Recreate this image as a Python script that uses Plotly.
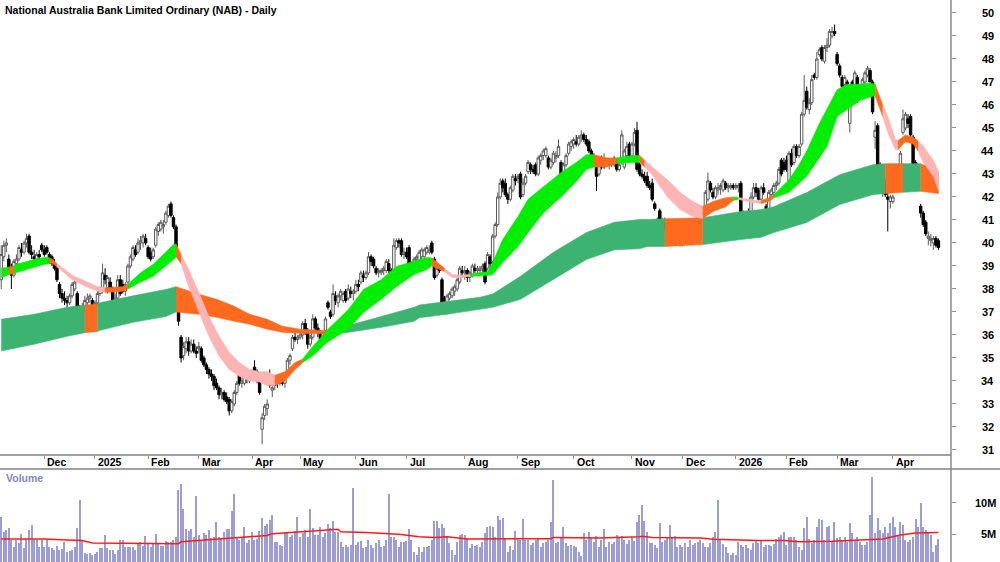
import pandas as pd
import plotly.graph_objects as go

# ------------------------------------------------------------------ data
TITLE = "National Australia Bank Limited Ordinary (NAB) - Daily"
FIRST_DAY, LAST_DAY = "2024-11-07", "2026-04-29"
ASX_HOLIDAYS = ["2024-12-25", "2024-12-26", "2025-01-01", "2025-01-27",
                "2025-04-18", "2025-04-21", "2025-04-25", "2025-06-09",
                "2025-12-25", "2025-12-26", "2026-01-01", "2026-01-26",
                "2026-04-03", "2026-04-06"]

# (open, high, low, close) for each trading day
NOV_2024 = [(38.4, 39.9, 38.0, 39.5), (39.4, 40.1, 39.2, 39.9), (39.9, 40.2, 39.6, 40.0),
            (39.3, 39.5, 38.8, 38.9), (38.9, 39.1, 38.0, 38.6), (38.6, 39.3, 38.5, 39.2),
            (39.1, 39.5, 38.9, 39.3), (39.3, 39.9, 39.2, 39.8), (39.7, 40.0, 39.4, 39.6),
            (39.6, 40.1, 39.5, 40.0), (40.0, 40.4, 39.8, 40.2), (40.3, 40.4, 39.5, 39.6),
            (39.6, 39.9, 39.3, 39.5), (39.4, 39.7, 39.1, 39.3), (39.3, 39.6, 39.2, 39.5),
            (39.5, 39.7, 39.3, 39.4), (39.9, 40.0, 39.6, 39.7)]
DEC_2024 = [(39.7, 39.9, 39.4, 39.5), (39.8, 39.9, 39.5, 39.6), (39.5, 39.6, 39.1, 39.2),
            (39.4, 39.5, 39.0, 39.1), (39.1, 39.3, 38.8, 38.9), (38.9, 39.0, 38.3, 38.4),
            (38.2, 38.3, 37.6, 37.8), (37.8, 38.0, 37.4, 37.6), (37.6, 37.9, 37.3, 37.5),
            (37.5, 37.7, 37.2, 37.4), (37.4, 37.8, 37.3, 37.7), (37.7, 38.3, 37.6, 38.2),
            (38.0, 38.4, 37.9, 38.3), (37.8, 37.9, 37.0, 37.1), (37.1, 37.3, 36.4, 36.6),
            (36.7, 37.4, 36.6, 37.2), (37.2, 37.7, 37.0, 37.5), (37.4, 37.8, 37.3, 37.6),
            (37.6, 37.8, 37.4, 37.7), (37.5, 37.6, 37.1, 37.2)]
JAN_2025 = [(37.2, 37.5, 37.1, 37.4), (37.4, 37.9, 37.3, 37.8), (37.8, 38.1, 37.7, 38.0),
            (37.9, 39.1, 37.8, 38.7), (38.6, 38.9, 38.2, 38.4), (37.9, 38.6, 37.8, 38.5),
            (38.3, 38.5, 37.9, 38.0), (38.0, 38.1, 37.3, 37.4), (37.5, 37.8, 37.3, 37.6),
            (37.6, 38.6, 37.5, 38.4), (38.4, 38.6, 37.7, 37.8), (38.2, 38.4, 37.8, 37.9),
            (37.9, 38.3, 37.7, 38.2), (38.3, 39.1, 38.2, 39.0), (39.0, 39.5, 38.9, 39.4),
            (39.3, 39.9, 39.2, 39.8), (39.7, 39.9, 39.4, 39.5), (39.6, 40.2, 39.5, 40.0),
            (40.0, 40.3, 39.7, 40.1), (40.0, 40.4, 39.8, 40.3), (40.2, 40.4, 39.9, 40.0)]
FEB_2025 = [(39.8, 39.9, 39.3, 39.4), (39.6, 39.8, 39.2, 39.3), (39.4, 39.8, 39.3, 39.7),
            (39.9, 40.7, 39.8, 40.6), (40.5, 40.9, 40.3, 40.8), (40.6, 41.0, 40.5, 40.9),
            (40.7, 41.0, 40.4, 40.8), (40.9, 41.4, 40.8, 41.3), (41.2, 41.7, 41.1, 41.6),
            (41.7, 41.8, 41.1, 41.2), (41.1, 41.2, 40.6, 40.7), (40.7, 40.8, 39.6, 39.7),
            (37.0, 37.2, 36.4, 36.6), (35.9, 36.0, 34.8, 35.0), (35.1, 35.7, 34.9, 35.5),
            (35.4, 35.9, 35.2, 35.7), (35.7, 35.9, 35.1, 35.3), (35.3, 35.8, 35.2, 35.6),
            (35.6, 35.8, 35.2, 35.3), (35.3, 35.5, 35.0, 35.2)]
MAR_2025 = [(35.4, 35.7, 35.2, 35.5), (35.4, 35.5, 34.8, 34.9), (35.0, 35.1, 34.6, 34.7),
            (34.7, 34.8, 34.3, 34.5), (34.5, 34.6, 34.1, 34.3), (34.3, 34.5, 34.0, 34.2),
            (34.2, 34.3, 33.6, 33.8), (33.9, 34.1, 33.6, 33.7), (33.7, 33.8, 33.2, 33.4),
            (33.4, 33.7, 33.2, 33.5), (33.5, 33.6, 33.1, 33.2), (33.3, 33.5, 33.0, 33.1),
            (33.2, 33.3, 32.5, 32.7), (32.7, 33.2, 32.6, 33.1), (33.0, 33.6, 32.9, 33.5),
            (33.5, 34.0, 33.4, 33.9), (34.4, 34.6, 33.8, 33.9), (33.9, 34.2, 33.7, 34.0),
            (33.9, 34.3, 33.8, 34.2), (34.2, 34.3, 33.9, 34.1), (34.0, 34.4, 33.9, 34.3)]
APR_2025 = [(34.1, 34.5, 34.0, 34.4), (34.6, 34.9, 34.3, 34.4), (34.4, 34.5, 33.9, 34.0),
            (34.0, 34.1, 33.4, 33.5), (31.9, 32.6, 31.25, 32.4), (32.5, 33.0, 32.3, 32.9),
            (32.8, 33.2, 32.5, 33.0), (34.2, 34.5, 33.7, 33.8), (33.6, 33.9, 33.3, 33.7),
            (33.8, 34.1, 33.6, 34.0), (34.0, 34.2, 33.7, 33.9), (33.9, 34.3, 33.8, 34.2),
            (34.1, 34.3, 33.8, 33.9), (33.9, 34.2, 33.7, 34.1), (34.3, 35.0, 34.2, 34.9),
            (34.9, 35.2, 34.7, 35.1), (35.4, 36.0, 35.3, 35.9), (35.9, 36.1, 35.7, 35.8),
            (35.8, 36.0, 35.6, 35.9)]
MAY_2025 = [(35.9, 36.2, 35.8, 36.0), (36.0, 36.6, 35.8, 36.5), (36.5, 36.7, 36.0, 36.2),
            (36.2, 36.3, 35.4, 35.6), (35.6, 36.0, 35.5, 35.9), (35.9, 36.9, 35.8, 36.7),
            (36.7, 36.8, 36.1, 36.3), (36.3, 36.5, 35.9, 36.1), (36.1, 36.2, 35.7, 35.8),
            (35.8, 36.2, 35.7, 36.1), (36.2, 36.8, 36.1, 36.7), (37.4, 37.5, 37.1, 37.2),
            (37.0, 37.1, 36.7, 36.8), (36.9, 38.2, 36.8, 37.8), (37.7, 37.9, 37.3, 37.5),
            (37.4, 37.8, 37.2, 37.7), (37.7, 38.0, 37.5, 37.9), (37.5, 37.9, 37.4, 37.8),
            (37.9, 38.0, 37.4, 37.5), (37.6, 38.2, 37.5, 38.0), (37.9, 38.1, 37.6, 37.8),
            (37.8, 38.0, 37.5, 37.9)]
JUN_2025 = [(37.9, 38.4, 37.8, 38.2), (38.2, 38.4, 37.9, 38.1), (38.3, 38.8, 38.2, 38.7),
            (38.6, 38.8, 38.3, 38.5), (38.5, 38.8, 38.4, 38.7), (38.7, 39.6, 38.6, 39.4),
            (39.4, 39.5, 39.0, 39.2), (39.3, 39.4, 38.9, 39.0), (38.9, 39.0, 38.6, 38.7),
            (38.7, 38.9, 38.5, 38.8), (38.7, 38.9, 38.6, 38.8), (38.8, 39.0, 38.6, 38.9),
            (38.8, 39.3, 38.7, 39.2), (39.1, 39.3, 38.7, 38.8), (38.8, 38.9, 38.5, 38.7),
            (38.7, 40.2, 38.6, 39.9), (39.8, 40.2, 39.7, 40.1), (40.1, 40.2, 39.8, 40.0),
            (40.1, 40.2, 39.4, 39.5), (39.5, 39.8, 39.3, 39.6)]
JUL_2025 = [(39.6, 39.8, 39.3, 39.4), (39.8, 39.9, 39.0, 39.1), (39.0, 39.2, 38.8, 39.1),
            (39.0, 39.4, 38.9, 39.3), (39.3, 39.5, 39.1, 39.4), (39.2, 39.7, 39.1, 39.6),
            (39.4, 39.8, 39.3, 39.7), (39.4, 39.8, 39.3, 39.7), (39.6, 39.9, 39.5, 39.8),
            (39.6, 39.9, 39.5, 39.7), (40.0, 40.1, 39.5, 39.6), (39.3, 39.4, 38.4, 38.5),
            (38.6, 39.0, 38.5, 38.9), (38.9, 39.0, 38.7, 38.8), (38.4, 38.5, 37.1, 37.2),
            (37.6, 37.7, 37.0, 37.3), (37.4, 37.8, 37.3, 37.7), (37.6, 37.9, 37.5, 37.8),
            (37.7, 38.1, 37.6, 38.0), (37.9, 38.2, 37.7, 38.1), (38.0, 38.5, 37.9, 38.4),
            (38.3, 39.0, 38.2, 38.9), (38.8, 39.0, 38.5, 38.7)]
AUG_2025 = [(38.7, 39.0, 38.4, 38.8), (38.8, 38.9, 38.3, 38.5), (38.5, 38.8, 38.3, 38.7),
            (38.6, 39.1, 38.5, 39.0), (38.9, 39.1, 38.7, 38.8), (38.8, 39.0, 38.6, 38.9),
            (38.8, 39.0, 38.7, 38.9), (38.9, 39.1, 38.7, 39.0), (39.1, 39.2, 38.2, 38.3),
            (38.9, 39.6, 38.8, 39.5), (39.4, 39.5, 38.9, 39.1), (39.2, 40.4, 39.1, 40.3),
            (40.3, 40.9, 40.2, 40.8), (40.8, 42.2, 40.7, 42.0), (42.0, 42.8, 41.9, 42.6),
            (42.7, 42.8, 42.2, 42.4), (42.6, 42.8, 42.0, 42.1), (42.1, 42.2, 41.7, 41.9),
            (41.9, 42.5, 41.8, 42.4), (42.3, 43.0, 42.2, 42.9), (42.8, 43.0, 42.5, 42.7)]
SEP_2025 = [(42.8, 43.0, 42.6, 42.9), (43.0, 43.1, 41.9, 42.0), (42.1, 42.8, 42.0, 42.6),
            (42.6, 43.0, 42.5, 42.9), (43.1, 43.6, 43.0, 43.5), (43.4, 43.5, 43.0, 43.2),
            (43.2, 43.4, 43.0, 43.1), (43.4, 43.5, 42.9, 43.0), (43.0, 43.8, 42.9, 43.7),
            (43.6, 43.9, 43.4, 43.8), (43.8, 44.1, 43.6, 44.0), (43.8, 44.2, 43.7, 44.1),
            (43.7, 43.8, 43.2, 43.3), (43.3, 43.7, 43.2, 43.6), (43.5, 44.0, 43.4, 43.9),
            (43.7, 44.0, 43.5, 43.8), (43.8, 44.5, 43.7, 44.2), (43.5, 43.6, 42.7, 42.9),
            (43.0, 43.5, 42.9, 43.4), (43.4, 43.9, 43.3, 43.8), (43.9, 44.4, 43.8, 44.3),
            (44.2, 44.5, 44.0, 44.4)]
OCT_2025 = [(44.3, 44.6, 44.1, 44.5), (44.4, 44.7, 44.2, 44.3), (44.3, 44.7, 44.2, 44.6),
            (44.6, 44.9, 44.4, 44.7), (44.7, 44.8, 44.4, 44.5), (44.5, 44.7, 44.2, 44.3),
            (44.4, 44.5, 43.9, 44.0), (44.0, 44.1, 43.5, 43.6), (43.7, 43.9, 43.4, 43.5),
            (43.6, 43.7, 42.25, 42.9), (43.0, 43.6, 42.9, 43.5), (43.5, 43.8, 43.2, 43.3),
            (43.3, 43.9, 43.2, 43.6), (43.6, 43.7, 43.3, 43.4), (43.4, 43.7, 43.2, 43.5),
            (43.5, 43.7, 43.3, 43.6), (43.4, 43.8, 43.3, 43.7), (43.6, 43.7, 43.1, 43.2),
            (43.2, 43.5, 43.1, 43.4), (43.5, 44.9, 43.4, 44.7), (43.3, 44.1, 43.2, 44.0),
            (43.8, 44.4, 43.6, 44.2), (44.3, 44.4, 43.7, 43.8)]
NOV_2025 = [(43.8, 44.4, 43.7, 44.3), (44.3, 45.0, 44.2, 44.8), (44.9, 45.27, 43.1, 43.2),
            (43.4, 43.5, 42.9, 43.0), (43.0, 43.2, 42.8, 42.9), (42.9, 43.1, 42.6, 42.7),
            (42.9, 43.1, 42.4, 42.5), (42.5, 42.7, 42.3, 42.4), (42.6, 42.8, 41.8, 41.9),
            (41.7, 41.8, 41.4, 41.5), (41.0, 41.1, 40.6, 40.7), (41.4, 41.5, 40.3, 40.5),
            (40.5, 41.1, 40.3, 41.0), (40.9, 41.1, 40.5, 40.6), (40.5, 41.0, 40.4, 40.9),
            (40.8, 41.0, 40.4, 40.5), (40.5, 41.0, 40.4, 40.9), (40.6, 41.0, 40.5, 40.9),
            (40.8, 40.9, 40.1, 40.2), (40.4, 40.5, 39.85, 40.0)]
DEC_2025 = [(39.9, 40.5, 39.85, 40.4), (40.4, 40.6, 40.2, 40.5), (40.4, 40.8, 40.3, 40.7),
            (40.7, 40.9, 40.4, 40.5), (40.5, 40.9, 40.4, 40.8), (40.8, 41.0, 40.6, 40.9),
            (40.9, 41.3, 40.8, 41.2), (41.1, 41.4, 41.0, 41.3), (41.3, 41.6, 41.2, 41.5),
            (41.5, 42.3, 41.4, 42.2), (41.9, 43.06, 41.8, 42.7), (42.6, 42.7, 42.2, 42.3),
            (42.2, 42.4, 41.9, 42.0), (42.0, 42.5, 41.9, 42.4), (42.3, 42.6, 42.1, 42.4),
            (42.4, 42.6, 42.1, 42.5), (42.3, 42.8, 42.2, 42.7), (42.6, 42.7, 42.3, 42.4),
            (42.4, 42.6, 42.2, 42.5), (42.4, 42.6, 42.3, 42.5), (42.5, 42.6, 42.3, 42.4)]
JAN_2026 = [(42.4, 42.6, 42.3, 42.5), (42.4, 42.6, 42.2, 42.5), (42.6, 42.7, 40.7, 41.2),
            (41.3, 41.4, 40.7, 40.8), (40.9, 41.4, 40.8, 41.3), (41.3, 41.5, 41.0, 41.1),
            (41.2, 42.2, 41.1, 42.0), (42.0, 42.6, 41.9, 42.4), (42.4, 42.6, 42.0, 42.2),
            (42.3, 42.4, 41.8, 41.9), (41.9, 42.5, 41.8, 42.4), (42.4, 42.6, 42.1, 42.2),
            (41.6, 41.7, 41.15, 41.3), (41.4, 42.3, 41.3, 42.2), (42.1, 42.4, 41.9, 42.3),
            (42.2, 42.6, 42.0, 42.5), (42.5, 42.7, 42.3, 42.6), (42.6, 43.3, 42.5, 43.2),
            (43.6, 43.7, 42.9, 43.0), (43.5, 43.7, 43.1, 43.2)]
FEB_2026 = [(43.6, 43.8, 43.1, 43.2), (42.7, 44.0, 42.45, 43.9), (43.9, 44.1, 43.3, 43.4),
            (43.5, 44.3, 43.4, 44.2), (44.2, 44.3, 43.7, 43.8), (43.8, 44.3, 43.7, 44.2),
            (44.3, 45.7, 44.2, 45.6), (45.6, 47.3, 45.5, 46.2), (46.6, 46.8, 45.8, 45.9),
            (45.8, 46.3, 45.6, 46.1), (46.1, 47.3, 46.0, 47.1), (47.3, 47.4, 47.1, 47.2),
            (47.2, 48.3, 47.1, 48.0), (48.2, 48.5, 48.1, 48.4), (48.5, 48.6, 47.9, 48.0),
            (47.9, 48.6, 47.8, 48.5), (48.5, 48.9, 48.3, 48.6), (48.6, 49.3, 48.5, 49.2),
            (49.0, 49.4, 48.9, 49.2), (49.2, 49.5, 49.0, 49.1)]
MAR_2026 = [(48.2, 48.3, 47.7, 47.8), (47.7, 47.8, 47.2, 47.3), (47.2, 47.3, 46.75, 46.8),
            (46.9, 47.3, 46.8, 47.2), (47.0, 47.1, 46.8, 46.9), (45.2, 46.1, 44.8, 46.0),
            (47.0, 47.1, 46.5, 46.6), (46.8, 47.5, 46.7, 47.4), (47.2, 47.3, 46.1, 46.2),
            (46.4, 46.6, 46.3, 46.5), (46.5, 47.2, 46.4, 47.1), (47.0, 47.5, 46.9, 47.4),
            (47.3, 47.7, 47.2, 47.6), (47.5, 47.6, 47.0, 47.0), (47.0, 47.1, 45.6, 45.7),
            (44.6, 45.3, 44.1, 44.9), (45.1, 45.2, 42.9, 43.0), (43.4, 43.5, 42.2, 42.3),
            (42.3, 42.9, 42.0, 42.7), (42.6, 42.8, 42.0, 42.1), (42.0, 42.3, 40.5, 41.9),
            (41.8, 42.1, 41.5, 42.0)]
APR_2026 = [(41.8, 42.1, 41.7, 42.0), (42.3, 43.3, 42.2, 43.0), (43.0, 43.3, 42.8, 43.2),
            (43.3, 44.0, 43.2, 43.9), (44.8, 45.8, 44.7, 45.4), (45.0, 45.7, 44.9, 45.6),
            (45.4, 45.6, 45.0, 45.2), (45.5, 45.6, 44.6, 44.7), (44.6, 44.7, 43.3, 43.4),
            (43.5, 43.6, 42.9, 43.0), (43.2, 43.3, 42.8, 42.9), (41.6, 41.7, 41.1, 41.3),
            (41.3, 41.4, 40.7, 40.8), (40.9, 41.0, 40.3, 40.4), (40.2, 40.5, 39.9, 40.3),
            (40.1, 40.4, 39.85, 40.2), (40.0, 40.3, 39.7, 40.2), (40.2, 40.3, 39.8, 39.9),
            (40.1, 40.2, 39.7, 39.8)]

# daily volume, millions of shares
VOLUME_M = [
    7.8, 5.4, 5.7, 6.0, 4.1, 3.0, 4.1, 3.6, 5.0, 2.8,
    4.2, 5.7, 6.5, 4.1, 4.1, 2.9, 4.1, 2.9, 4.1, 2.9,
    2.8, 2.5, 3.1, 2.5, 2.6, 3.8, 2.1, 2.3, 2.5, 2.9,
    6.0, 10.5, 4.1, 2.0, 1.9, 2.0, 1.7, 1.9, 2.1, 2.8,
    2.8, 4.9, 2.8, 2.5, 2.5, 1.8, 2.5, 4.1, 4.1, 2.9,
    3.0, 2.9, 3.0, 2.5, 3.6, 3.7, 3.1, 4.7, 3.6, 2.9,
    3.6, 5.1, 3.5, 3.1, 3.1, 3.9, 3.8, 3.8, 4.1, 4.6,
    12.1, 13.1, 9.0, 5.8, 5.6, 5.8, 4.6, 11.1, 4.9, 4.1,
    5.2, 4.9, 5.7, 4.4, 4.6, 7.0, 4.6, 4.4, 5.4, 5.85,
    5.85, 8.8, 11.4, 4.6, 4.1, 4.6, 6.1, 3.6, 4.1, 5.4,
    4.1, 4.2, 5.6, 7.6, 6.3, 6.7, 7.3, 8.1, 3.8, 3.8,
    3.3, 3.1, 5.4, 5.3, 4.6, 4.9, 5.5, 7.8, 4.6, 5.2,
    5.7, 4.5, 9.0, 5.95, 4.9, 4.9, 6.1, 4.6, 5.2, 6.7,
    5.95, 7.1, 5.4, 5.4, 3.8, 3.0, 3.3, 2.9, 3.3, 12.4,
    3.3, 3.8, 4.0, 2.8, 3.0, 4.1, 3.3, 2.8, 3.6, 4.1,
    3.0, 3.1, 4.1, 11.5, 4.6, 4.6, 4.1, 3.0, 3.8, 3.8,
    4.0, 5.8, 4.1, 2.2, 1.7, 3.0, 2.2, 3.0, 2.9, 3.1,
    4.1, 7.1, 7.1, 5.95, 6.6, 5.95, 4.6, 3.6, 2.5, 1.7,
    3.8, 4.9, 5.1, 4.9, 4.4, 2.8, 3.5, 3.1, 3.3, 3.0,
    3.8, 5.2, 6.2, 6.3, 6.1, 4.5, 7.9,
    7.3, 7.6, 4.2, 2.2, 3.1, 2.5, 5.6, 4.2, 4.1, 7.4,
    4.1, 4.1, 3.3, 3.6, 4.1, 4.2, 2.9, 3.6, 3.7, 4.1,
    6.9, 13.7, 3.6, 3.8, 4.4, 6.1, 3.6, 3.1, 3.3, 3.1,
    3.0, 2.2, 1.5, 5.2, 4.1, 5.3, 4.4, 3.8, 4.7, 2.9,
    4.1, 5.8, 3.0, 3.8, 3.5, 3.8, 4.9, 4.6, 4.7, 4.1,
    3.5, 4.1, 4.6, 4.0, 7.0, 8.1, 9.7, 7.2, 5.4, 3.6,
    3.6, 3.3, 2.8, 6.8, 3.8, 4.1, 4.6, 6.5, 4.6, 4.7,
    3.0, 3.3, 2.9, 3.6, 3.0, 4.1, 3.3, 3.6, 3.8, 4.1,
    3.6, 3.0, 3.0, 3.6, 4.5, 5.3, 10.5, 4.1, 3.5, 3.0,
    2.0, 1.7, 2.0, 1.7, 3.8, 3.3, 3.0, 3.3, 2.8, 2.5,
    3.6, 4.1, 3.6, 4.1, 3.0, 3.3, 3.3, 3.1, 3.5, 4.2,
    4.6, 4.9, 5.3, 3.3, 4.6, 4.5, 4.5, 4.1, 3.0, 2.5,
    5.95, 7.7, 4.2, 3.6, 4.1, 6.2, 7.5, 7.3, 4.1, 6.2,
    6.3, 3.8, 7.0, 4.4, 4.6, 4.1, 4.6, 3.8, 6.8, 5.2,
    4.1, 4.6, 3.8, 3.3, 3.3, 3.8, 8.1, 14.2, 5.2, 7.6,
    5.7, 5.2, 6.1, 5.2, 6.8, 7.8, 6.2, 4.9, 6.9, 6.5,
    4.1, 3.8, 4.1, 4.6, 7.4, 6.1, 10.0, 6.1, 5.7, 5.2,
    4.9, 2.2, 3.3, 4.2]

# volume moving average (red line), read at trading-day index -> millions
VOL_AVG_DAY = [0, 17, 26, 32, 36, 59, 65, 70, 71, 78, 92, 105, 107, 118, 131, 133, 134,
               144, 157, 165, 171, 176, 184, 197, 210, 217, 218, 236, 252, 253, 257,
               276, 281, 289, 299, 309, 315, 328, 342, 348, 355, 361, 370]
VOL_AVG_M = [4.25, 4.25, 4.1, 4.0, 3.6, 3.6, 3.5, 3.5, 3.8, 4.0, 4.5, 4.8, 5.1, 5.4, 5.8,
             5.8, 5.4, 5.3, 5.0, 4.6, 4.5, 4.6, 4.25, 4.25, 4.3, 4.3, 4.5, 4.4, 4.6, 4.7,
             4.5, 4.4, 4.2, 4.1, 4.0, 4.0, 3.8, 3.9, 4.2, 4.25, 4.9, 5.2, 5.3]

# short-term average ribbon: day index, upper edge, lower edge, state of following segment
SHORT_DAY = [0, 3, 5, 6, 13, 17, 19, 20, 22, 28, 34, 38, 41, 48, 50, 55, 60, 65, 68, 69,
             71, 74, 78, 82, 86, 90, 94, 98, 102, 105, 108, 112, 116, 119, 123, 129, 137,
             143, 150, 156, 163, 168, 170, 173, 175, 178, 182, 185, 188, 192, 194, 198,
             204, 208, 214, 221, 227, 231, 234, 239, 243, 249, 252, 254, 257, 263, 268,
             273, 277, 281, 286, 289, 291, 297, 300, 303, 305, 311, 315, 318, 323, 326,
             330, 334, 339, 343, 345, 347, 348, 350, 353, 354, 357, 360, 362, 364, 368, 370]
SHORT_TOP = [38.9, 38.95, 39.0, 39.07, 39.28, 39.37, 39.36, 39.3, 39.1, 38.6, 38.3, 38.1,
             38.05, 38.1, 38.2, 38.7, 39.07, 39.6, 39.93, 39.95, 39.5, 38.85, 37.85, 36.8,
             35.94, 35.25, 34.8, 34.5, 34.4, 34.4, 34.25, 34.4, 34.8, 34.95, 35.5, 36.25,
             37.1, 37.98, 38.4, 38.98, 39.2, 39.37, 39.35, 39.07, 38.9, 38.63, 38.6, 38.63,
             38.7, 38.75, 39.15, 40.15, 41.15, 41.9, 42.45, 43.06, 43.5, 43.84, 43.84, 43.7,
             43.7, 43.8, 43.8, 43.6, 43.3, 42.75, 42.2, 41.8, 41.6, 41.8, 41.97, 42.0, 41.98,
             41.85, 41.85, 41.95, 42.1, 42.75, 43.4, 44.0, 45.2, 45.8, 46.66, 46.9, 46.9,
             46.96, 46.9, 46.35, 46.0, 45.5, 44.5, 44.45, 44.7, 44.6, 44.45, 44.2, 43.6, 43.1]
SHORT_BOT = [38.5, 38.62, 38.68, 38.72, 38.94, 39.07, 39.1, 39.12, 38.98, 38.4, 38.07, 37.9,
             37.85, 37.9, 38.0, 38.3, 38.55, 39.0, 39.28, 39.4, 39.1, 38.1, 36.98, 35.94,
             35.08, 34.5, 34.2, 34.0, 33.95, 33.8, 33.8, 34.0, 34.5, 34.8, 35.1, 35.7,
             36.25, 36.98, 37.55, 38.1, 38.63, 38.85, 39.0, 38.85, 38.75, 38.5, 38.5, 38.55,
             38.55, 38.58, 38.63, 39.15, 39.85, 40.45, 41.3, 42.0, 42.67, 43.2, 43.3, 43.3,
             43.45, 43.5, 43.5, 43.3, 42.97, 42.0, 41.45, 41.15, 41.06, 41.37, 41.58, 41.85,
             41.9, 41.75, 41.72, 41.8, 41.95, 42.2, 42.6, 42.9, 43.7, 44.2, 45.5, 45.8, 46.2,
             46.35, 46.4, 45.8, 45.5, 44.8, 44.06, 44.05, 44.4, 44.3, 44.0, 43.5, 42.9, 42.3]
SHORT_STATE = ["up", "mixed", "up", "up", "up", "up", "mixed", "mixed", "down", "down",
               "down", "down", "mixed", "mixed", "up", "up", "up", "up", "up", "mixed",
               "down", "down", "down", "down", "down", "down", "down", "down", "down", "down",
               "mixed", "mixed", "mixed", "up", "up", "up", "up", "up", "up", "up", "up",
               "up", "mixed", "mixed", "down", "down", "down", "up", "up", "up", "up", "up",
               "up", "up", "up", "up", "up", "up", "mixed", "mixed", "up", "up", "mixed",
               "down", "down", "down", "down", "down", "mixed", "mixed", "mixed", "up",
               "down", "down", "mixed", "mixed", "up", "up", "up", "up", "up", "up", "up",
               "up", "up", "up", "mixed", "mixed", "down", "down", "down", "mixed", "mixed",
               "mixed", "down", "down", "down", "down"]

# long-term average ribbon
LONG_DAY = [0, 13, 26, 33, 38, 39, 52, 65, 69, 78, 85, 92, 98, 105, 111, 118, 128, 136,
            150, 163, 165, 176, 189, 194, 205, 218, 231, 242, 252, 255, 262, 277, 292,
            300, 305, 318, 331, 344, 349, 356, 363, 370]
LONG_TOP = [36.68, 36.9, 37.2, 37.3, 37.35, 37.4, 37.7, 37.98, 38.1, 37.77, 37.55, 37.25,
            36.9, 36.68, 36.38, 36.25, 36.18, 36.38, 36.8, 37.2, 37.3, 37.45, 37.64, 37.78,
            38.55, 39.6, 40.45, 40.9, 41.02, 41.02, 41.05, 41.1, 41.37, 41.45, 41.58, 42.19,
            42.97, 43.4, 43.45, 43.45, 43.45, 43.1]
LONG_BOT = [35.3, 35.6, 35.94, 36.1, 36.15, 36.2, 36.55, 36.8, 37.0, 36.9, 36.77, 36.6,
            36.47, 36.25, 36.12, 36.07, 36.05, 36.1, 36.33, 36.6, 36.75, 36.9, 37.11, 37.2,
            37.55, 38.4, 39.28, 39.7, 39.75, 39.85, 39.85, 39.93, 40.15, 40.25, 40.45, 40.89,
            41.67, 42.1, 42.15, 42.2, 42.25, 42.15]
LONG_STATE = ["up", "up", "up", "warn", "up", "up", "up", "up", "warn", "warn", "warn",
              "warn", "warn", "warn", "warn", "warn", "up", "up", "up", "up", "up", "up",
              "up", "up", "up", "up", "up", "up", "up", "up", "warn", "up", "up", "up",
              "up", "up", "up", "up", "warn", "up", "warn", "warn"]

PRICE_TICKS = list(range(31, 51))
VOL_TICKS_M = [5, 10]
VOL_TICK_TEXT = ["5M", "10M"]

# ------------------------------------------------------------------ build
FONT = "Liberation Sans, Arial, sans-serif"
C_SHORT = {"up": "#00ee00", "down": "#ffb4b4", "mixed": "#ff6a1e"}
C_LONG = {"up": "#3cb371", "warn": "#ff6a1e"}

dates = pd.bdate_range(FIRST_DAY, LAST_DAY)
dates = dates[~dates.isin(pd.to_datetime(ASX_HOLIDAYS))]

rows = (NOV_2024 + DEC_2024 + JAN_2025 + FEB_2025 + MAR_2025 + APR_2025 + MAY_2025 +
        JUN_2025 + JUL_2025 + AUG_2025 + SEP_2025 + OCT_2025 + NOV_2025 + DEC_2025 +
        JAN_2026 + FEB_2026 + MAR_2026 + APR_2026)
n = min(len(rows), len(dates), len(VOLUME_M))
rows = rows[:n]
days = list(range(n))
opens = [r[0] for r in rows]
highs = [r[1] for r in rows]
lows = [r[2] for r in rows]
closes = [r[3] for r in rows]

# month ticks at first trading day of each month
ticks_pos, ticks_txt = [], []
prev = None
for k, d in enumerate(dates[:n]):
    key = (d.year, d.month)
    if key != prev:
        if k > 0:
            ticks_pos.append(k)
            ticks_txt.append(str(d.year) if d.month == 1 else d.strftime("%b"))
        prev = key


def ribbon(day, top, bot, state, colors):
    out = []
    k = 0
    m = len(day)
    while k < m - 1:
        s = state[k]
        j = k
        while j + 1 < m - 1 and state[j + 1] == s:
            j += 1
        xs = list(day[k:j + 2]) + list(day[k:j + 2])[::-1]
        ys = list(top[k:j + 2]) + list(bot[k:j + 2])[::-1]
        out.append(go.Scatter(x=xs, y=ys, fill="toself", fillcolor=colors[s], mode="lines",
                              line=dict(width=0.6, color=colors[s]), hoverinfo="skip",
                              showlegend=False, xaxis="x", yaxis="y"))
        k = j + 1
    return out


fig = go.Figure()
for tr in ribbon(LONG_DAY, LONG_TOP, LONG_BOT, LONG_STATE, C_LONG):
    fig.add_trace(tr)
for tr in ribbon(SHORT_DAY, SHORT_TOP, SHORT_BOT, SHORT_STATE, C_SHORT):
    fig.add_trace(tr)

fig.add_trace(go.Candlestick(
    x=days, open=opens, high=highs, low=lows, close=closes,
    increasing=dict(line=dict(color="#5a5a5a", width=1), fillcolor="white"),
    decreasing=dict(line=dict(color="black", width=1), fillcolor="black"),
    whiskerwidth=0, showlegend=False, hoverinfo="skip", xaxis="x", yaxis="y"))

fig.add_trace(go.Bar(x=days, y=[v * 1e6 for v in VOLUME_M[:n]], width=0.5,
                     marker=dict(color="#9c9cd8", line=dict(width=0)),
                     showlegend=False, hoverinfo="skip", xaxis="x2", yaxis="y2"))
fig.add_trace(go.Scatter(x=VOL_AVG_DAY, y=[v * 1e6 for v in VOL_AVG_M], mode="lines",
                         line=dict(color="#ff1a1a", width=1.5),
                         showlegend=False, hoverinfo="skip", xaxis="x2", yaxis="y2"))

W, H = 1000, 562
PLOT_R = 951 / W
PRICE_BOTTOM = 1 - 455 / H
VOL_TOP = 1 - 469 / H
X_RANGE = [-0.489, 374.96]

fig.update_layout(
    width=W, height=H, margin=dict(l=0, r=0, t=0, b=0),
    paper_bgcolor="white", plot_bgcolor="white",
    boxgap=0.05, boxgroupgap=0, bargap=0,
    font=dict(family=FONT, size=11, color="black"),
    xaxis=dict(domain=[0, PLOT_R], range=X_RANGE, anchor="y", showgrid=False,
               zeroline=False, showticklabels=False, ticks="outside", ticklen=3,
               tickcolor="#909090", tickvals=ticks_pos, rangeslider=dict(visible=False),
               fixedrange=True),
    yaxis=dict(domain=[PRICE_BOTTOM, 1], range=[30.78, 50.565], side="right",
               showgrid=False, zeroline=False, showticklabels=False, ticks="outside",
               ticklen=4, tickcolor="#909090", tickvals=PRICE_TICKS, fixedrange=True),
    xaxis2=dict(domain=[0, PLOT_R], range=X_RANGE, anchor="y2", matches="x",
                showgrid=False, zeroline=False, showticklabels=False, ticks="",
                fixedrange=True),
    yaxis2=dict(domain=[0, VOL_TOP], range=[0.575e6, 15.43e6], side="right",
                showgrid=False, zeroline=False, showticklabels=False, ticks="outside",
                ticklen=4, tickcolor="#909090", tickvals=[v * 1e6 for v in VOL_TICKS_M],
                anchor="x2", fixedrange=True),
)

shapes = [
    dict(type="line", xref="paper", yref="paper", x0=0, x1=PLOT_R, y0=PRICE_BOTTOM,
         y1=PRICE_BOTTOM, line=dict(color="#a0a0a0", width=2)),
    dict(type="line", xref="paper", yref="paper", x0=0, x1=1, y0=VOL_TOP, y1=VOL_TOP,
         line=dict(color="#a0a0a0", width=2)),
    dict(type="line", xref="paper", yref="paper", x0=PLOT_R, x1=PLOT_R, y0=0, y1=1,
         line=dict(color="#8a8a8a", width=1.5)),
]
fig.update_layout(shapes=shapes)

ann = [dict(text="<b>%s</b>" % TITLE, xref="paper", yref="paper", x=0.003, y=1 - 10 / H,
            xanchor="left", yanchor="middle", showarrow=False,
            font=dict(family=FONT, size=10.5, color="black")),
       dict(text="<b>Volume</b>", xref="paper", yref="paper", x=0.004, y=1 - 478 / H,
            xanchor="left", yanchor="middle", showarrow=False,
            font=dict(family=FONT, size=10.5, color="#8484c4"))]
for p, t in zip(ticks_pos, ticks_txt):
    ann.append(dict(text="<b>%s</b>" % t, xref="x", yref="paper", x=p, y=1 - 462 / H,
                    xanchor="left", yanchor="middle", xshift=1, showarrow=False,
                    font=dict(family=FONT, size=10.5, color="black")))
for v in PRICE_TICKS:
    ann.append(dict(text="<b>%d</b>" % v, xref="paper", yref="y", x=0.996, y=v,
                    xanchor="right", yanchor="middle", showarrow=False,
                    font=dict(family=FONT, size=11, color="black")))
for v, t in zip(VOL_TICKS_M, VOL_TICK_TEXT):
    ann.append(dict(text="<b>%s</b>" % t, xref="paper", yref="y2", x=0.998, y=v * 1e6,
                    xanchor="right", yanchor="middle", showarrow=False,
                    font=dict(family=FONT, size=11, color="black")))
fig.update_layout(annotations=ann)

fig.write_html("out.html", config={"displayModeBar": False})
